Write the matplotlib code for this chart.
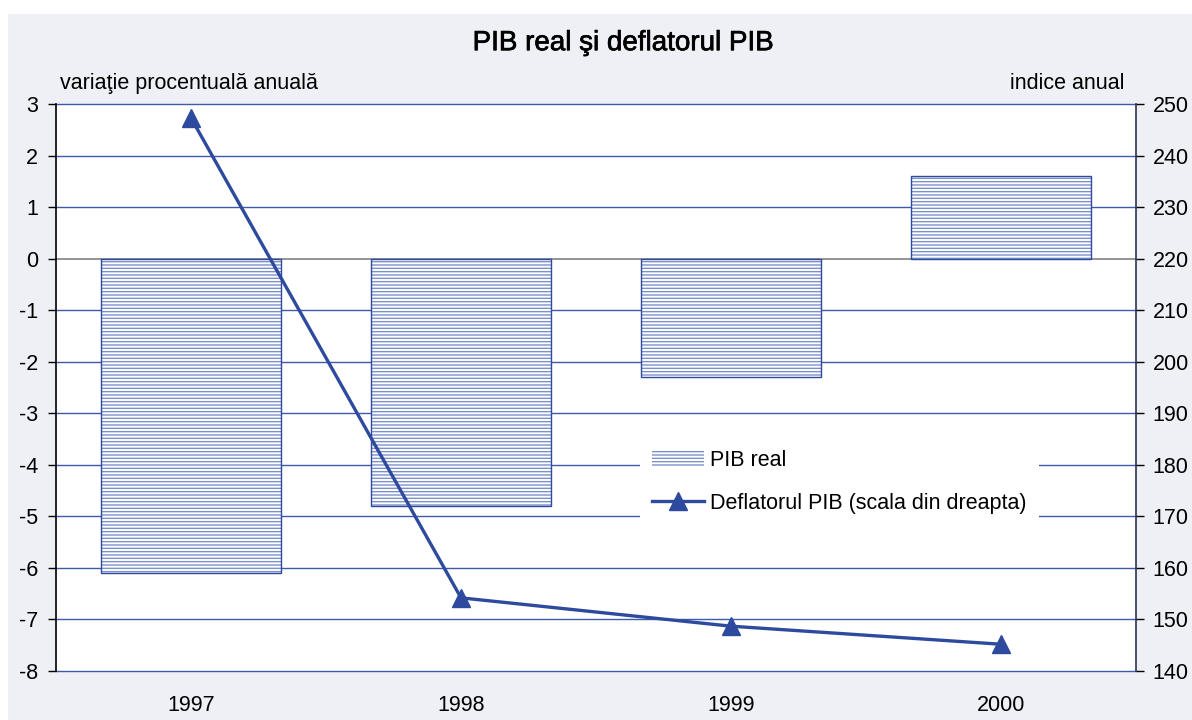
"""PIB real si deflatorul PIB, 1997-2000 (bars + line on right scale)."""

import matplotlib
matplotlib.use("Agg")
import matplotlib.pyplot as plt
import matplotlib.patheffects as pe
from matplotlib.patches import Rectangle

# data
years = ["1997", "1998", "1999", "2000"]
pib_real = [-6.1, -4.8, -2.3, 1.6]          # variatie procentuala anuala
deflator = [247.3, 154.2, 148.7, 145.2]     # indice anual (right scale)

left_ticks = list(range(-8, 4))
right_ticks = list(range(140, 251, 10))

BLUE = "#2e4a9e"
GRID = "#3f5aab"
HATCH = "#7c90cc"
FS = 15.5

plt.rcParams['font.family'] = ['Liberation Sans', 'DejaVu Sans']

fig = plt.figure(figsize=(11.92, 7.2), dpi=100)
fig.patch.set_facecolor("white")
fig.patches.append(Rectangle((0.0067, 0), 0.9933, 0.9806, transform=fig.transFigure,
                             facecolor="#eef0f5", edgecolor="none", zorder=-10))

ax1 = fig.add_axes([0.047, 0.068, 0.906, 0.7875])
ax1.set_facecolor("white")
x = range(len(years))

# hatched fill first, then the darker outline
bars = ax1.bar(x, pib_real, width=0.667, color="white", hatch="-----",
               edgecolor=HATCH, linewidth=0, zorder=3, label="PIB real")
ax1.bar(x, pib_real, width=0.667, fill=False, edgecolor=BLUE, linewidth=1.0, zorder=4)

ax1.set_xlim(-0.5, len(years) - 0.5)
ax1.set_ylim(-8, 3)
ax1.set_yticks(left_ticks)
ax1.set_yticklabels([str(t) for t in left_ticks])
ax1.set_xticks(list(x))
ax1.set_xticklabels(years)
for t in left_ticks:
    if t == 0:
        ax1.axhline(t, color="#808080", linewidth=1.2, zorder=2)
    else:
        ax1.axhline(t, color=GRID, linewidth=1.0, zorder=1, clip_on=False)

for side in ("top", "right", "bottom"):
    ax1.spines[side].set_visible(False)
ax1.spines["left"].set_color("black")
ax1.spines["left"].set_linewidth(1.2)
ax1.tick_params(axis="y", direction="out", length=6, width=1, pad=7, labelsize=FS)
ax1.tick_params(axis="x", length=0, pad=17, labelsize=FS)

ax2 = ax1.twinx()
ax2.set_ylim(140, 250)
ax2.set_yticks(right_ticks)
ax2.plot(list(x), deflator, color=BLUE, linewidth=2.4, marker="^", markersize=13,
         zorder=5, label="Deflatorul PIB (scala din dreapta)")
for side in ("top", "left", "bottom"):
    ax2.spines[side].set_visible(False)
ax2.spines["right"].set_color("#2b3550")
ax2.spines["right"].set_linewidth(1.2)
ax2.tick_params(axis="y", direction="out", length=6, width=1, pad=6, labelsize=FS)

handles = [bars, ax2.get_lines()[0]]
labels = ["PIB real", "Deflatorul PIB (scala din dreapta)"]
leg = ax2.legend(handles, labels, loc="upper left", bbox_to_anchor=(0.541, 0.41),
                 borderaxespad=0, frameon=True, fancybox=False, fontsize=FS,
                 handlelength=2.4, handletextpad=0.3, labelspacing=1.0,
                 borderpad=0.55)
leg.get_frame().set_facecolor("white")
leg.get_frame().set_edgecolor("none")
leg.get_frame().set_alpha(1)

fig.text(0.5226, 0.940, "PIB real şi deflatorul PIB", ha="center", va="center",
         fontsize=20, path_effects=[pe.withStroke(linewidth=0.5, foreground="black")])
fig.text(0.050, 0.884, "variaţie procentuală anuală", ha="left", va="center", fontsize=FS)
fig.text(0.943, 0.884, "indice anual", ha="right", va="center", fontsize=FS)

fig.savefig("out.png", dpi=100, facecolor=fig.get_facecolor())
